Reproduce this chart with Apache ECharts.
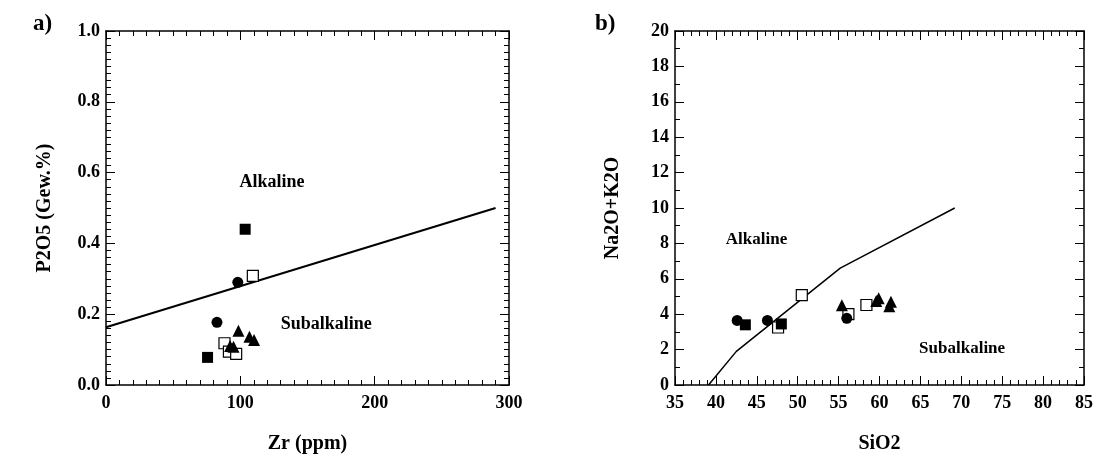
<!DOCTYPE html>
<html>
<head>
<meta charset="utf-8">
<script src="https://cdn.jsdelivr.net/npm/echarts@6/dist/echarts.min.js"></script>
<style>
  html, body { margin: 0; padding: 0; background: #fff; }
  #chart { width: 1102px; height: 466px; }
</style>
</head>
<body>
<div id="chart"></div>
<script>
  // a) Zr vs P2O5
  var filledSquaresA = [[103.6, 0.44], [75.6, 0.078]];
  var circlesA = [[98.1, 0.29], [82.6, 0.177]];
  var openSquaresA = [[109.3, 0.308], [88.2, 0.118], [91.5, 0.094], [96.9, 0.088]];
  var trianglesA = [[98.6, 0.153], [106.8, 0.136], [110.2, 0.127], [92.4, 0.110], [94.9, 0.108]];
  var boundaryA = [[0, 0.163], [290, 0.5]];

  // b) SiO2 vs Na2O+K2O
  var filledSquaresB = [[43.6, 3.4], [48.0, 3.45]];
  var circlesB = [[42.6, 3.65], [46.3, 3.65], [56.0, 3.77]];
  var openSquaresB = [[47.6, 3.25], [50.5, 5.08], [56.2, 4.0], [58.4, 4.52]];
  var trianglesB = [[55.4, 4.5], [59.6, 4.75], [59.9, 4.9], [61.2, 4.45], [61.4, 4.7]];
  var boundaryB = [[39.1, 0], [42.5, 1.9], [55.2, 6.6], [69.2, 10]];

  var font = '"Liberation Serif", "Times New Roman", serif';
  var black = '#000';

  function axisCommon(showLabel, minorSplit) {
    return {
      axisLine: { show: true, onZero: false, lineStyle: { color: black, width: 1.5 } },
      axisTick: { show: true, inside: true, length: 9, lineStyle: { color: black, width: 1 } },
      minorTick: { show: true, splitNumber: minorSplit, length: 5, lineStyle: { color: black, width: 1 } },
      splitLine: { show: false },
      minorSplitLine: { show: false },
      axisLabel: { show: showLabel, color: black, fontFamily: font, fontWeight: 'bold', fontSize: 18 }
    };
  }

  function nameStyle() {
    return { color: black, fontFamily: font, fontWeight: 'bold', fontSize: 20 };
  }

  function xAx(grid, min, max, interval, minor, pos, show, name) {
    var a = axisCommon(show, minor);
    a.type = 'value'; a.gridIndex = grid; a.min = min; a.max = max; a.interval = interval;
    a.position = pos;
    a.axisLabel.margin = 9;
    if (name) {
      a.name = name; a.nameLocation = 'middle'; a.nameGap = 49;
      a.nameTextStyle = nameStyle();
    }
    return a;
  }
  function yAx(grid, min, max, interval, minor, pos, show, name, gap, fmt) {
    var a = axisCommon(show, minor);
    a.type = 'value'; a.gridIndex = grid; a.min = min; a.max = max; a.interval = interval;
    a.position = pos;
    a.axisLabel.margin = 6;
    if (fmt) a.axisLabel.formatter = fmt;
    if (name) {
      a.name = name; a.nameLocation = 'middle'; a.nameGap = gap;
      a.nameTextStyle = nameStyle();
    }
    return a;
  }

  function sc(data, symbol, xi, yi, open) {
    return {
      type: 'scatter', data: data, symbol: symbol, xAxisIndex: xi, yAxisIndex: yi,
      symbolSize: symbol === 'triangle' ? 12 : 11,
      itemStyle: open ? { color: '#fff', borderColor: black, borderWidth: 1.2, opacity: 1 }
                      : { color: black, opacity: 1 },
      z: open ? 2 : 3
    };
  }

  function lbl(text, x, y, size, xi, yi) {
    return {
      type: 'scatter', xAxisIndex: xi, yAxisIndex: yi, symbolSize: 0, silent: true,
      data: [[x, y]],
      itemStyle: { opacity: 1 },
      label: { show: true, position: 'inside', formatter: text, color: black, opacity: 1,
               fontFamily: font, fontWeight: 'bold', fontSize: size }
    };
  }

  var fmt1 = function (v) { return v.toFixed(1); };

  var option = {
    backgroundColor: '#fff',
    animation: false,
    title: [
      { text: 'a)', left: 28, top: 8, textStyle: { fontFamily: font, fontWeight: 'bold', fontSize: 23, color: black } },
      { text: 'b)', left: 590, top: 8, textStyle: { fontFamily: font, fontWeight: 'bold', fontSize: 23, color: black } }
    ],
    grid: [
      { left: 106, top: 31, width: 403, height: 354 },
      { left: 675, top: 31, width: 409, height: 354 }
    ],
    xAxis: [
      xAx(0, 0, 300, 100, 10, 'bottom', true, 'Zr (ppm)'),
      xAx(0, 0, 300, 100, 10, 'top', false),
      xAx(1, 35, 85, 5, 5, 'bottom', true, 'SiO2'),
      xAx(1, 35, 85, 5, 5, 'top', false)
    ],
    yAxis: [
      yAx(0, 0, 1, 0.2, 10, 'left', true, 'P2O5 (Gew.%)', 51, fmt1),
      yAx(0, 0, 1, 0.2, 10, 'right', false),
      yAx(1, 0, 20, 2, 2, 'left', true, 'Na2O+K2O', 52),
      yAx(1, 0, 20, 2, 2, 'right', false)
    ],
    series: [
      { type: 'line', data: boundaryA, xAxisIndex: 0, yAxisIndex: 0, symbol: 'none',
        lineStyle: { color: black, width: 2 }, z: 1 },
      sc(openSquaresA, 'rect', 0, 0, true),
      sc(filledSquaresA, 'rect', 0, 0, false),
      sc(circlesA, 'circle', 0, 0, false),
      sc(trianglesA, 'triangle', 0, 0, false),
      lbl('Alkaline', 123.6, 0.573, 18, 0, 0),
      lbl('Subalkaline', 164, 0.17, 18, 0, 0),

      { type: 'line', data: boundaryB, xAxisIndex: 2, yAxisIndex: 2, symbol: 'none',
        lineStyle: { color: black, width: 1.5 }, z: 1 },
      sc(openSquaresB, 'rect', 2, 2, true),
      sc(filledSquaresB, 'rect', 2, 2, false),
      sc(circlesB, 'circle', 2, 2, false),
      sc(trianglesB, 'triangle', 2, 2, false),
      lbl('Alkaline', 44.96, 8.19, 17, 2, 2),
      lbl('Subalkaline', 70.1, 2.07, 17, 2, 2)
    ]
  };

  var myChart = echarts.init(document.getElementById('chart'));
  myChart.setOption(option);
</script>
</body>
</html>
